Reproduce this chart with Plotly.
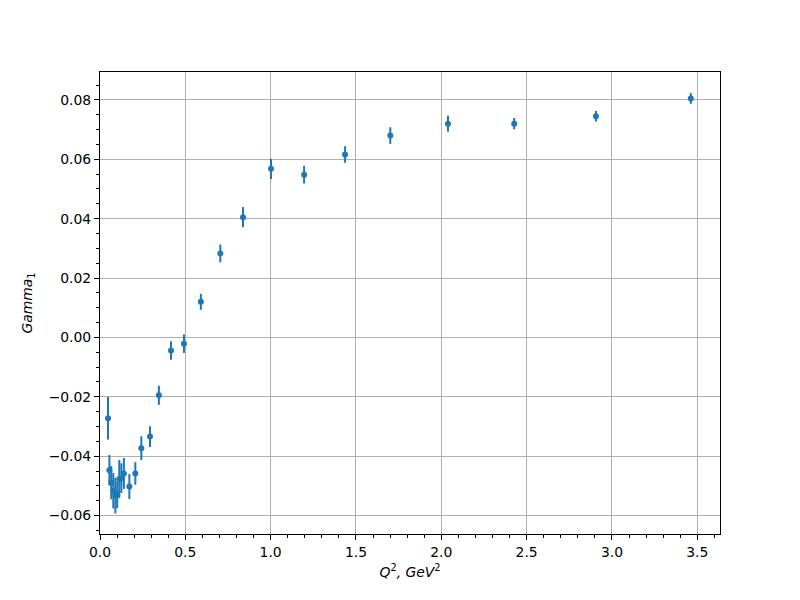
import plotly.graph_objects as go

q2 = [0.047, 0.055, 0.066, 0.078, 0.090, 0.101, 0.113, 0.125, 0.140, 0.172, 0.207, 0.242,
      0.293, 0.345, 0.416, 0.492, 0.591, 0.705, 0.838, 1.002, 1.196, 1.436, 1.701,
      2.039, 2.427, 2.906, 3.462]
gamma1 = [-0.0272, -0.0447, -0.0489, -0.0516, -0.0533, -0.0530, -0.0477, -0.0474, -0.0458,
          -0.0502, -0.0458, -0.0373, -0.0334, -0.0195, -0.0044, -0.0021, 0.0120, 0.0283,
          0.0405, 0.0568, 0.0548, 0.0616, 0.0680, 0.0720, 0.0720, 0.0745, 0.0805]
err = [0.0072, 0.0051, 0.0056, 0.0060, 0.0060, 0.0045, 0.0064, 0.0050, 0.0052, 0.0042,
       0.0038, 0.0040, 0.0035, 0.0032, 0.0031, 0.0031, 0.0027, 0.0030, 0.0034, 0.0034,
       0.0030, 0.0028, 0.0028, 0.0027, 0.0019, 0.0018, 0.0018]

x_ticks = [0.0, 0.5, 1.0, 1.5, 2.0, 2.5, 3.0, 3.5]
x_ticklabels = ["0.0", "0.5", "1.0", "1.5", "2.0", "2.5", "3.0", "3.5"]
y_ticks = [-0.06, -0.04, -0.02, 0.00, 0.02, 0.04, 0.06, 0.08]
y_ticklabels = ["\u22120.06", "\u22120.04", "\u22120.02", "0.00", "0.02", "0.04", "0.06", "0.08"]

blue = "#1f77b4"
fig = go.Figure(go.Scatter(
    x=q2, y=gamma1, mode="markers",
    marker=dict(color=blue, size=6),
    error_y=dict(type="data", array=err, visible=True, color=blue, thickness=2, width=0),
    showlegend=False,
))

axis_common = dict(
    showgrid=True, gridcolor="#b0b0b0", gridwidth=0.8,
    showline=True, linecolor="black", linewidth=1, mirror=True,
    ticks="outside", ticklen=5, tickcolor="black", tickwidth=1,
    zeroline=False, automargin=False,
    tickfont=dict(family="DejaVu Sans", size=13.9, color="black"),
)

fig.update_xaxes(
    range=[0, 3.633], tickmode="array", tickvals=x_ticks, ticktext=x_ticklabels,
    minor=dict(ticks="outside", tickmode="linear", tick0=0, dtick=0.1, ticklen=2.8,
               tickcolor="black", showgrid=False),
    title=dict(text="<i>Q</i><sup>2</sup><i>, GeV</i><sup>2</sup>",
               font=dict(family="DejaVu Sans", size=13.9, color="black"), standoff=8),
    **axis_common,
)
fig.update_yaxes(
    range=[-0.0662, 0.0894], tickmode="array", tickvals=y_ticks, ticktext=y_ticklabels,
    minor=dict(ticks="outside", tickmode="linear", tick0=0, dtick=0.005, ticklen=2.8,
               tickcolor="black", showgrid=False),
    title=dict(text="<i>Gamma</i><sub>1</sub>",
               font=dict(family="DejaVu Sans", size=13.9, color="black"), standoff=12),
    **axis_common,
)

fig.update_layout(
    width=800, height=600,
    margin=dict(l=100, r=80, t=72, b=66),
    paper_bgcolor="white", plot_bgcolor="white",
)

fig.write_html("out.html", config={"displayModeBar": False},
               post_script="document.body.style.margin='0px';")
